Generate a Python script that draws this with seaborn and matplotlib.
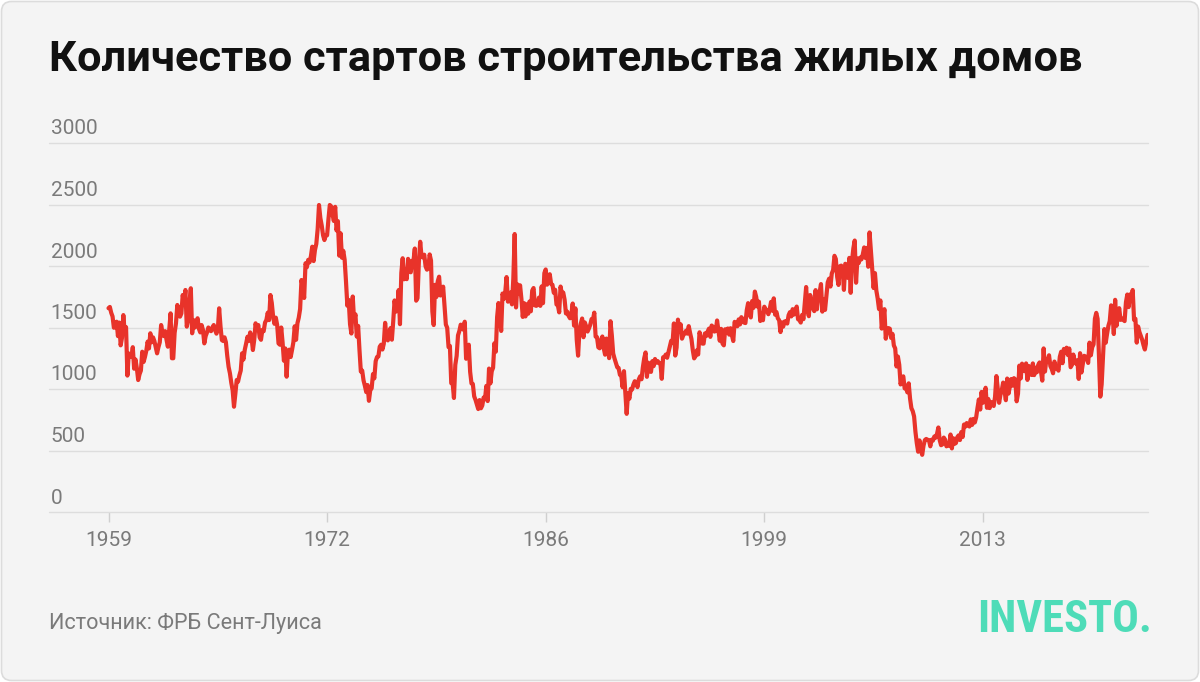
import numpy as np
import pandas as pd
import matplotlib
matplotlib.use("Agg")
import matplotlib.pyplot as plt
import matplotlib.transforms as mtransforms
from matplotlib.patches import FancyBboxPatch
import seaborn as sns

# ---------------- data (housing starts, thousands, monthly, SAAR) ----------------
starts_1959_1968 = [
    1657, 1667, 1620, 1590, 1498, 1503, 1547, 1430, 1540, 1355, 1416, 1601,
    1460, 1503, 1109, 1289, 1266, 1260, 1340, 1165, 1240, 1170, 1073, 1120,
    1150, 1303, 1220, 1260, 1310, 1385, 1330, 1453, 1380, 1420, 1390, 1340,
    1290, 1340, 1380, 1520, 1460, 1430, 1470, 1400, 1344, 1480, 1615, 1250,
    1250, 1456, 1534, 1683, 1641, 1588, 1614, 1764, 1700, 1805, 1507, 1560,
    1700, 1819, 1453, 1560, 1500, 1530, 1575, 1490, 1460, 1520, 1480, 1371,
    1430, 1460, 1500, 1480, 1470, 1500, 1520, 1480, 1450, 1480, 1656, 1510,
    1398, 1390, 1420, 1380, 1270, 1180, 1127, 1050, 990, 856, 960, 1073,
    1060, 1110, 1150, 1290, 1240, 1320, 1370, 1425, 1390, 1460, 1420, 1317,
    1400, 1534, 1480, 1520, 1420, 1400, 1480, 1470, 1540, 1561, 1620, 1560,
]
starts_1969_1978 = [
    1764, 1700, 1588, 1530, 1580, 1520, 1371, 1360, 1500, 1380, 1230, 1330,
    1100, 1300, 1320, 1260, 1317, 1380, 1510, 1400, 1534, 1580, 1650, 1886,
    1830, 1740, 2022, 1990, 2050, 2030, 2080, 2157, 2040, 2130, 2180, 2300,
    2496, 2390, 2330, 2250, 2211, 2250, 2250, 2380, 2496, 2485, 2420, 2366,
    2481, 2289, 2365, 2084, 2266, 2067, 2123, 2051, 1874, 1677, 1724, 1526,
    1451, 1752, 1555, 1607, 1426, 1513, 1316, 1142, 1150, 1070, 1026, 975,
    1032, 904, 993, 1005, 1121, 1087, 1226, 1260, 1264, 1344, 1360, 1321,
    1367, 1538, 1421, 1395, 1459, 1495, 1401, 1550, 1720, 1629, 1641, 1804,
    1527, 1943, 2063, 1892, 1971, 1893, 2058, 2020, 1949, 2042, 2042, 2142,
    1718, 1738, 2032, 2197, 2075, 2070, 2092, 1996, 1970, 1981, 2094, 2044,
]
starts_1979_1988 = [
    1630, 1520, 1847, 1748, 1876, 1913, 1760, 1778, 1832, 1681, 1524, 1498,
    1341, 1350, 1047, 1051, 927, 1196, 1269, 1436, 1471, 1523, 1510, 1482,
    1547, 1246, 1306, 1360, 1140, 1045, 1041, 940, 911, 873, 837, 910,
    843, 866, 931, 917, 1025, 902, 1166, 1046, 1144, 1173, 1372, 1303,
    1586, 1699, 1606, 1472, 1776, 1733, 1785, 1910, 1710, 1715, 1785, 1688,
    1897, 2260, 1663, 1851, 1774, 1843, 1732, 1586, 1698, 1590, 1689, 1612,
    1711, 1632, 1800, 1821, 1680, 1676, 1684, 1743, 1676, 1834, 1698, 1942,
    1972, 1848, 1876, 1933, 1854, 1847, 1782, 1807, 1687, 1681, 1623, 1833,
    1774, 1784, 1726, 1614, 1628, 1594, 1575, 1605, 1695, 1515, 1656, 1400,
    1271, 1473, 1532, 1573, 1421, 1541, 1509, 1467, 1492, 1522, 1569, 1563,
]
starts_1989_1998 = [
    1621, 1425, 1422, 1339, 1331, 1397, 1427, 1332, 1279, 1410, 1351, 1251,
    1551, 1437, 1289, 1248, 1212, 1177, 1171, 1115, 1110, 1014, 1145, 969,
    798, 965, 921, 1001, 996, 1036, 1063, 1049, 1015, 1079, 1103, 1079,
    1176, 1250, 1297, 1099, 1214, 1145, 1139, 1226, 1186, 1244, 1214, 1227,
    1210, 1210, 1083, 1258, 1260, 1280, 1254, 1300, 1343, 1392, 1376, 1533,
    1272, 1337, 1564, 1465, 1526, 1409, 1439, 1450, 1474, 1450, 1511, 1455,
    1407, 1316, 1249, 1267, 1314, 1281, 1461, 1416, 1369, 1369, 1452, 1431,
    1467, 1491, 1424, 1516, 1504, 1467, 1472, 1557, 1475, 1392, 1489, 1370,
    1355, 1486, 1457, 1492, 1442, 1494, 1437, 1390, 1546, 1520, 1510, 1566,
    1525, 1584, 1567, 1540, 1536, 1641, 1698, 1614, 1582, 1715, 1660, 1792,
]
starts_1999_2008 = [
    1748, 1670, 1710, 1553, 1611, 1559, 1669, 1648, 1635, 1608, 1648, 1708,
    1636, 1737, 1604, 1626, 1575, 1559, 1463, 1541, 1507, 1549, 1551, 1532,
    1600, 1625, 1590, 1649, 1605, 1636, 1670, 1567, 1562, 1540, 1602, 1568,
    1698, 1829, 1642, 1592, 1764, 1717, 1655, 1633, 1804, 1648, 1753, 1788,
    1853, 1629, 1726, 1643, 1751, 1867, 1897, 1833, 1939, 1967, 2083, 2057,
    1911, 1846, 1998, 2003, 1981, 1806, 2018, 2007, 1903, 2066, 1782, 2042,
    2144, 2207, 1864, 2061, 2025, 2068, 2054, 2095, 2151, 2065, 2147, 1994,
    2273, 2119, 1969, 1821, 1942, 1802, 1737, 1650, 1720, 1491, 1570, 1649,
    1409, 1480, 1495, 1490, 1415, 1448, 1354, 1330, 1183, 1264, 1197, 1037,
    1084, 1103, 1005, 1013, 973, 1046, 923, 844, 820, 777, 652, 560,
]
starts_2009_2018 = [
    490, 582, 505, 465, 540, 585, 594, 586, 585, 534, 588, 581,
    614, 604, 636, 687, 583, 543, 550, 605, 588, 534, 545, 539,
    630, 517, 600, 554, 561, 608, 623, 585, 650, 610, 711, 694,
    723, 704, 695, 753, 708, 757, 728, 770, 847, 915, 833, 976,
    888, 962, 1010, 847, 919, 845, 894, 883, 862, 936, 1105, 1003,
    888, 952, 992, 1052, 985, 909, 1085, 963, 1024, 1081, 1027, 1088,
    1078, 900, 962, 1190, 1086, 1206, 1158, 1145, 1208, 1074, 1187, 1159,
    1114, 1208, 1113, 1173, 1136, 1196, 1216, 1145, 1068, 1330, 1142, 1239,
    1235, 1274, 1186, 1163, 1128, 1223, 1167, 1172, 1149, 1262, 1303, 1210,
    1326, 1296, 1336, 1276, 1329, 1177, 1196, 1280, 1229, 1206, 1233, 1082,
]
starts_2019_2023 = [
    1291, 1134, 1203, 1270, 1264, 1250, 1212, 1377, 1274, 1340, 1363, 1571,
    1619, 1570, 1269, 938, 1038, 1265, 1487, 1376, 1448, 1514, 1552, 1680,
    1625, 1447, 1725, 1514, 1594, 1657, 1562, 1573, 1563, 1552, 1706, 1768,
    1666, 1769, 1716, 1805, 1562, 1571, 1377, 1508, 1463, 1432, 1401, 1357,
    1321, 1380, 1440,
]
first_month = "1959-01-01"
tick_step_months = 162
tick_labels = ["1959", "1972", "1986", "1999", "2013"]
y_ticks = [0, 500, 1000, 1500, 2000, 2500, 3000]

title_text = "Количество стартов строительства жилых домов"
source_text = "Источник: ФРБ Сент-Луиса"
brand_text = "INVESTO."

# ---------------- build frame ----------------
values = (starts_1959_1968 + starts_1969_1978 + starts_1979_1988 +
          starts_1989_1998 + starts_1999_2008 + starts_2009_2018 +
          starts_2019_2023)
dates = pd.date_range(first_month, periods=len(values), freq="MS")
df = pd.DataFrame({"date": dates, "idx": np.arange(len(values)), "starts": values})
tick_idx = list(range(0, len(values), tick_step_months))[:len(tick_labels)]

# ---------------- style ----------------
sns.set_theme(style="white")
plt.rcParams["font.family"] = ["Roboto", "DejaVu Sans"]

W, H = 1200, 682
fig = plt.figure(figsize=(W / 100, H / 100), dpi=100)
fig.patch.set_facecolor("white")
bg = FancyBboxPatch((1.5, 1.5), W - 3, H - 3,
                    boxstyle="round,pad=0,rounding_size=10",
                    transform=mtransforms.IdentityTransform(),
                    facecolor="#f4f4f4", edgecolor="#dcdcdc", linewidth=1.2,
                    zorder=-5)
fig.patches.append(bg)

x_left, x_right = 49, 1148
y_top, y_bottom = 143, 512
ax = fig.add_axes([x_left / W, 1 - y_bottom / H, (x_right - x_left) / W,
                   (y_bottom - y_top) / H])
ax.set_facecolor("none")
ax.set_zorder(2)

px_per_month = 1.3494
first_x = 108.5
ax.set_xlim(-(first_x - x_left) / px_per_month, (x_right - first_x) / px_per_month)
ax.set_ylim(0, 3000)

sns.lineplot(data=df, x="idx", y="starts", ax=ax, color="#e8332a",
             linewidth=3.0, zorder=3)
for ln in ax.lines:
    ln.set_solid_joinstyle("round")
    ln.set_solid_capstyle("round")

for s in ax.spines.values():
    s.set_visible(False)

ax.set_yticks(y_ticks)
ax.yaxis.grid(True, color="#dddddd", linewidth=1.0)
ax.xaxis.grid(False)
for gl in ax.get_ygridlines():
    gl.set_clip_on(False)
ax.tick_params(axis="y", length=0, labelleft=False)

ax.set_xticks(tick_idx)
ax.set_xticklabels(tick_labels)
ax.tick_params(axis="x", bottom=True, length=7, width=1, color="#cfcfcf",
               pad=7, labelsize=15, labelcolor="#7a7a7a")
ax.set_xlabel("")
ax.set_ylabel("")

for v in y_ticks:
    ax.annotate(str(v), xy=(0, v), xycoords=("axes fraction", "data"),
                xytext=(1.5, 8.5), textcoords="offset pixels",
                ha="left", va="baseline", fontsize=15, color="#7a7a7a")

fig.text(49 / W, 1 - 71 / H, title_text, fontsize=31.2, fontweight="bold",
         color="#111111", ha="left", va="baseline")

fig.text(49 / W, 1 - 629 / H, source_text, fontsize=15.6, color="#7a7a7a",
         ha="left", va="baseline")

fig.text(1152 / W, 1 - 632 / H, brand_text, fontsize=32, fontweight=800,
         family=["Roboto Condensed", "DejaVu Sans"], color="#4edcb8",
         ha="right", va="baseline")

fig.savefig("out.png", dpi=100, facecolor=fig.get_facecolor())
